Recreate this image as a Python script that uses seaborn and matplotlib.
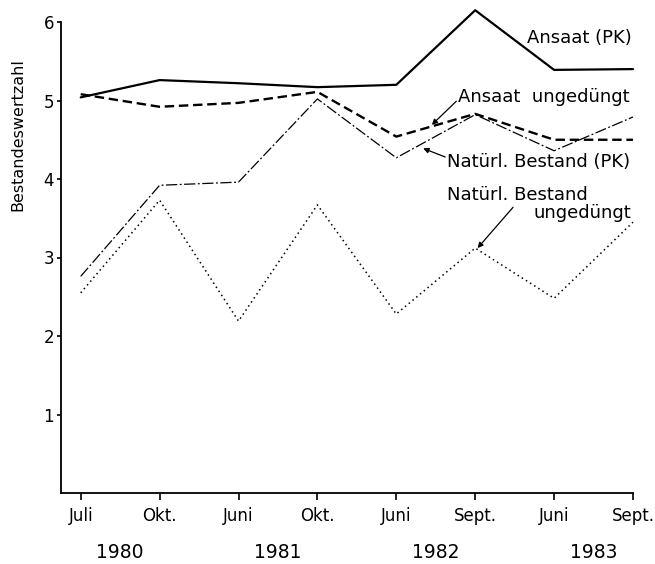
import matplotlib
matplotlib.use("Agg")
import matplotlib.pyplot as plt
import seaborn as sns
import pandas as pd

sns.set_theme(style="ticks")
plt.rcParams['font.family'] = ['DejaVu Sans']
plt.rcParams['text.color'] = 'black'

months = ["Juli", "Okt.", "Juni", "Okt.", "Juni", "Sept.", "Juni", "Sept."]
years = ["1980", "1981", "1982", "1983"]
ansaat_pk = [5.04, 5.26, 5.22, 5.17, 5.20, 6.15, 5.39, 5.40]
ansaat_ungeduengt = [5.08, 4.92, 4.97, 5.11, 4.54, 4.83, 4.50, 4.50]
natuerl_pk = [2.76, 3.92, 3.96, 5.02, 4.27, 4.82, 4.36, 4.79]
natuerl_ungeduengt = [2.55, 3.73, 2.19, 3.67, 2.28, 3.12, 2.48, 3.45]

series = {
    "Ansaat (PK)": (ansaat_pk, "-", 1.6),
    "Ansaat ungedüngt": (ansaat_ungeduengt, (0, (4, 2)), 1.7),
    "Natürl. Bestand (PK)": (natuerl_pk, (0, (9, 2, 1.5, 2)), 0.9),
    "Natürl. Bestand ungedüngt": (natuerl_ungeduengt, (0, (1, 2.2)), 1.1),
}

fig = plt.figure(figsize=(6.55, 5.64), dpi=100)
ax = fig.add_axes([61/655, 1-493/564, (633-61)/655, (493-22)/564])

x = list(range(len(months)))
for name, (vals, ls, lw) in series.items():
    df = pd.DataFrame({"x": x, "y": vals})
    sns.lineplot(data=df, x="x", y="y", ax=ax, color="black", linewidth=lw,
                 linestyle=ls, legend=False)
for ln in ax.get_lines():
    ln.set_clip_on(False)

ax.set_xlim(-0.25, 7)
ax.set_ylim(0, 6)
ax.set_xticks(x)
ax.set_xticklabels(months, fontsize=12)
ax.set_yticks([1, 2, 3, 4, 5, 6])
ax.set_yticklabels(["1", "2", "3", "4", "5", "6"], fontsize=12)
ax.set_xlabel("")
ax.set_ylabel("")
sns.despine(ax=ax)
for s in ["left", "bottom"]:
    ax.spines[s].set_linewidth(1.3)
    ax.spines[s].set_color("black")
ax.tick_params(axis="x", length=5, width=1.2, pad=5, colors="black")
ax.tick_params(axis="y", length=3, width=1.2, pad=2, colors="black")

# year labels centered between month pairs
for i, yr in enumerate(years):
    ax.annotate(yr, xy=(2*i + 0.5, 0), xycoords=("data", "axes fraction"),
                xytext=(0, -43), textcoords="offset points",
                ha="center", va="center", fontsize=13.5)

fig.text(18/655, 1-135/564, "Bestandeswertzahl", rotation=90,
         ha="center", va="center", fontsize=11.5)

arrow = dict(arrowstyle="-|>", color="black", lw=0.9,
             shrinkA=0, shrinkB=0, mutation_scale=8)

# annotations
ax.text(5.66, 5.80, "Ansaat (PK)", ha="left", va="center", fontsize=13)
ax.text(4.78, 5.04, "Ansaat  ungedüngt", ha="left", va="center", fontsize=13)
ax.annotate("", xy=(4.45, 4.69), xytext=(4.76, 4.99), arrowprops=arrow)
ax.text(4.64, 4.22, "Natürl. Bestand (PK)", ha="left", va="center", fontsize=13)
ax.annotate("", xy=(4.34, 4.39), xytext=(4.62, 4.28), arrowprops=arrow)
ax.text(4.64, 3.80, "Natürl. Bestand", ha="left", va="center", fontsize=13)
ax.text(5.74, 3.57, "ungedüngt", ha="left", va="center", fontsize=13)
ax.annotate("", xy=(5.03, 3.12), xytext=(5.48, 3.64), arrowprops=arrow)

fig.savefig("out.png", dpi=100, facecolor="white")
